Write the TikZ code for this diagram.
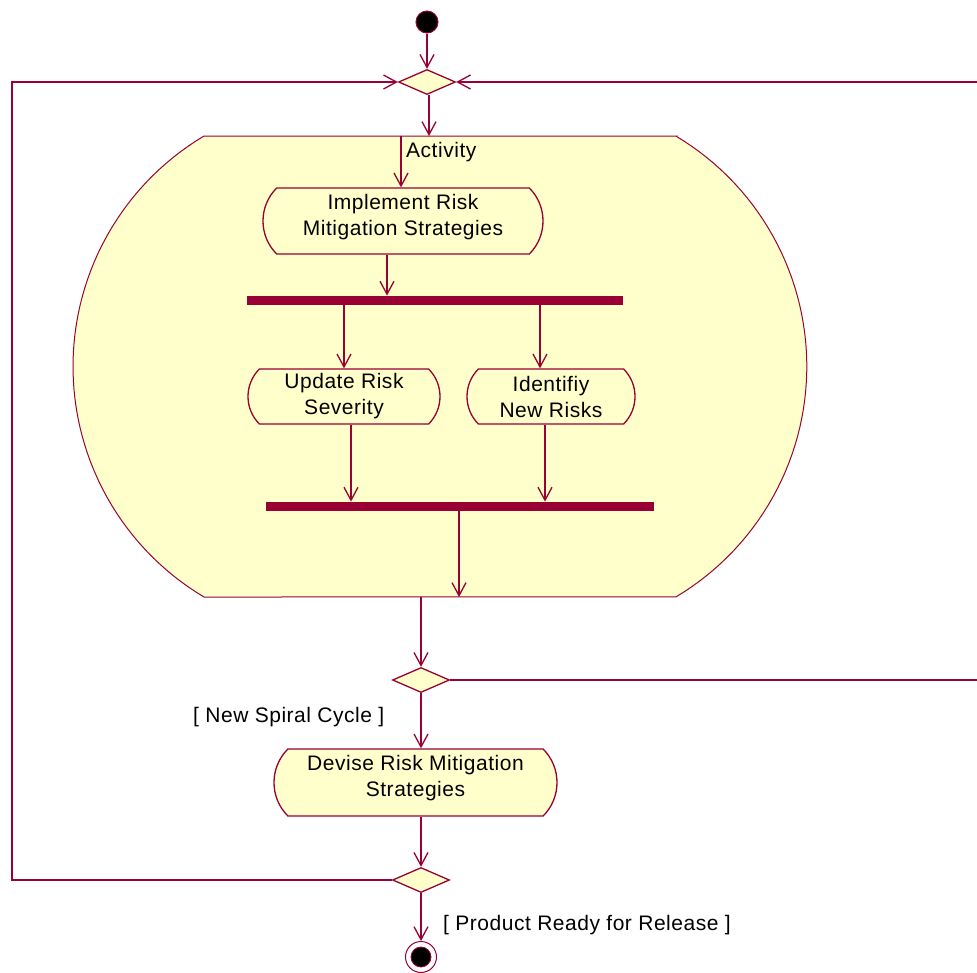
\documentclass[tikz,border=0pt]{standalone}
\usepackage{fontspec}
\setmainfont{Liberation Sans}[LetterSpace=2.5]
\usetikzlibrary{arrows.meta,shapes.geometric,shapes.misc}
\definecolor{roseline}{RGB}{153,0,51}
\definecolor{rosefill}{RGB}{255,255,204}
\tikzset{
  uml/.style={line width=1.3pt, draw=roseline},
  arr/.style={uml, -{Straight Barb[length=13pt,width=14pt]}},
  lbl/.style={font=\fontsize{21}{26}\selectfont, inner sep=0pt, anchor=base west},
  actionbox/.style={uml, fill=rosefill, shape=rounded rectangle,
    rounded rectangle arc length=90, inner sep=0pt, align=center,
    font=\fontsize{21}{26}\selectfont},
  choice/.style={uml, fill=rosefill, shape=diamond, inner sep=0pt,
    minimum width=57pt, minimum height=25pt},
  syncbar/.style={draw=roseline, fill=roseline, line width=0.8pt,
    shape=rectangle, inner sep=0pt, minimum height=8pt},
}
\begin{document}
\begin{tikzpicture}[x=1pt,y=-1pt]
\useasboundingbox (0,0) rectangle (977,972);
\clip (0,0) rectangle (977,972);

% composite activity region: flat top and bottom, circular sides
\draw[uml, line width=1pt, fill=rosefill]
  (204,136) -- (676,136)
  -- plot[domain=-59.2:59.2, samples=60] ({538.5+268.3*cos(\x)},{366.5+268.3*sin(\x)})
  -- (204,597)
  -- plot[domain=120.8:239.2, samples=60] ({341.3+268.3*cos(\x)},{366.5+268.3*sin(\x)})
  -- cycle;
\coordinate (acttop) at (429,136);
\coordinate (actin) at (401,136);
\coordinate (actbot) at (459,597);
\coordinate (actout) at (421,597);
\coordinate (lft) at (12,0);
\coordinate (rgt) at (990,0);

% initial state and first merge
\node[circle, fill=black, draw=roseline, line width=1pt, minimum size=22pt, inner sep=0pt] (start) at (427,22) {};
\node[choice] (d1) at (427,82) {};

% actions inside the region
\node[actionbox, minimum width=280pt, minimum height=66pt] (impl) at (403,221)
  {Implement Risk\\Mitigation Strategies\rule[-13pt]{0pt}{0pt}};
\node[syncbar, minimum width=375pt] (fork) at (434.5,300) {};
\node[actionbox, minimum width=192pt, minimum height=55pt] (upd) at (344,396.5)
  {Update Risk\\Severity};
\node[actionbox, minimum width=168pt, minimum height=55pt] (idn) at (551,396.5)
  {Identifiy\\New Risks};
\node[syncbar, minimum width=387pt] (join) at (459.5,506) {};
\node[lbl] (actlbl) at (406,157) {Activity};

% decisions, action and final state below the region
\node[choice] (d2) at (421,680) {};
\node[actionbox, minimum width=283pt, minimum height=67pt] (dev) at (415.5,782.5)
  {Devise Risk Mitigation\\Strategies\rule[-13pt]{0pt}{0pt}};
\node[choice] (d3) at (421,880) {};
\node[circle, fill=white, draw=roseline, line width=1pt, minimum size=31pt, inner sep=0pt] (fin) at (421,957) {};
\node[circle, fill=black, draw=roseline, line width=0.8pt, minimum size=20pt, inner sep=0pt] (finin) at (fin.center) {};

\node[lbl] (guard1) at (193,722) {[ New Spiral Cycle ]};
\node[lbl] (guard2) at (443,930) {[ Product Ready for Release ]};

% helper points on nodes
\path (impl.south) ++(-16,0) coordinate (i1);
\path (fork.south -| 540,0) coordinate (f2);
\path (upd.south) ++(7,0) coordinate (u1);
\path (idn.south) ++(-6,0) coordinate (n1);

% flows
\draw[arr] (start.south) -- (d1.north);
\draw[arr] (d1.south -| acttop) -- (acttop);
\draw[arr] (actin) -- (actin |- impl.north);
\draw[arr] (i1) -- (i1 |- fork.north);
\draw[arr] (fork.south -| upd.north) -- (upd.north);
\draw[arr] (f2) -- (f2 |- idn.north);
\draw[arr] (u1) -- (u1 |- join.north);
\draw[arr] (n1) -- (n1 |- join.north);
\draw[arr] (join.south -| actbot) -- (actbot);
\draw[arr] (actout) -- (d2.north);
\draw[arr] (d2.south) -- (d2.south |- dev.north);
\draw[arr] (d3.north |- dev.south) -- (d3.north);
\draw[arr] (d3.south) -- (fin.north);
\draw[arr] (d3.west) -- (d3.west -| lft) |- (d1.west);
\draw[arr] (d2.east) -- (d2.east -| rgt) |- (d1.east);
\end{tikzpicture}
\end{document}
